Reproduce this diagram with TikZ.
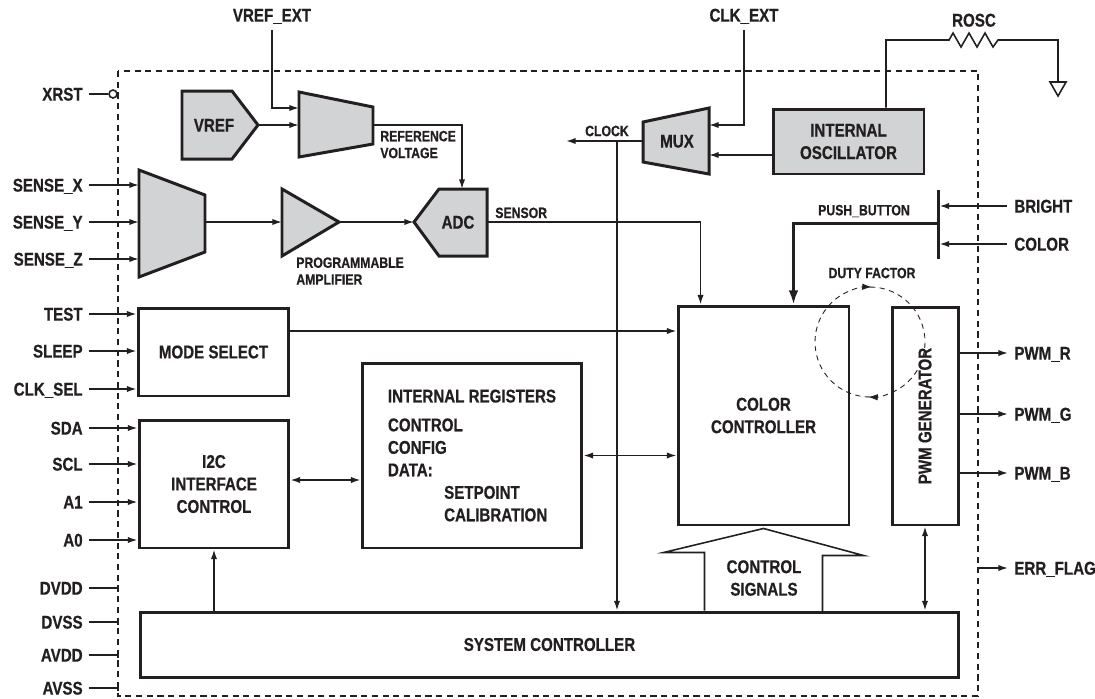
\documentclass[tikz,border=0pt]{standalone}
\usepackage{fontspec}
\setmainfont{Liberation Sans}[FakeStretch=0.82, BoldFeatures={FakeBold=0.6}]
\usepackage{tikz}
\usetikzlibrary{arrows.meta,positioning,calc}
\definecolor{chipgray}{HTML}{D1D3D4}
\definecolor{inkdark}{HTML}{231F20}
\tikzset{
  blockbox/.style={rectangle, draw=inkdark, line width=1.7pt, inner sep=0pt, align=center, text=inkdark, font=\bfseries\fontsize{10.5}{12.8}\selectfont},
  grayshape/.style={draw=inkdark, fill=chipgray, line width=1.7pt, line join=miter},
  pinlabel/.style={inner sep=0pt, text=inkdark, font=\bfseries\fontsize{10.5}{12.8}\selectfont, text height=7.5pt, text depth=0pt},
  blocktext/.style={inner sep=0pt, align=center, text=inkdark, font=\bfseries\fontsize{10.5}{12.8}\selectfont},
  smalllabel/.style={inner sep=0pt, align=left, text=inkdark, font=\bfseries\fontsize{8.5}{9.6}\selectfont},
  wire/.style={draw=inkdark, line width=0.9pt},
  thickwire/.style={draw=inkdark, line width=1.7pt}
}
\begin{document}
\begin{tikzpicture}[x=0.02cm, y=-0.02cm, >={Latex[length=5.5pt,width=3.6pt]}]
\useasboundingbox (0,0) rectangle (1095,698);

\coordinate (chip_nw) at (118,71);
\coordinate (chip_se) at (978,696);
\draw[inkdark, line width=0.9pt, dash pattern=on 3.5pt off 2.6pt] (chip_nw) rectangle (chip_se);

\node[blockbox, minimum width=3.02cm, minimum height=1.76cm] (mode_select) at (213.5,352) {MODE SELECT};
\node[blockbox, minimum width=3.0cm, minimum height=2.56cm] (i2c_ctrl) at (214,484) {I2C\\INTERFACE\\CONTROL};
\node[blockbox, minimum width=4.4cm, minimum height=3.7cm, align=left] (int_regs) at (472,455.5) {INTERNAL REGISTERS\\[3.6pt]CONTROL\\CONFIG\\DATA:\\\hspace*{32pt}SETPOINT\\\hspace*{32pt}CALIBRATION};
\node[blockbox, minimum width=3.42cm, minimum height=4.38cm] (color_ctrl) at (763.5,415.5) {COLOR\\CONTROLLER};
\node[blockbox, minimum width=1.32cm, minimum height=4.36cm] (pwm_gen) at (925,416) {};
\node[blocktext, rotate=90] (pwm_text) at (pwm_gen.center) {PWM GENERATOR};
\node[blockbox, minimum width=16.38cm, minimum height=1.3cm] (sys_ctrl) at (549.5,644.5) {SYSTEM CONTROLLER};
\node[blockbox, fill=chipgray, minimum width=3.02cm, minimum height=1.3cm] (int_osc) at (848.5,141.5) {INTERNAL\\OSCILLATOR};

\draw[grayshape] (182,91) -- (232,91) -- (258,125) coordinate (vref_out) -- (232,159) -- (182,159) -- cycle;
\node[pinlabel] (vref) at (214,125) {VREF};
\draw[grayshape] (299,92) -- (373,107) -- (373,144) -- (299,157) -- cycle;
\coordinate (ref_mux_in) at (299,108);
\coordinate (ref_mux_w) at (299,125);
\coordinate (ref_mux_out) at (373,125);
\draw[grayshape] (139,170) -- (205,195) -- (205,252) -- (139,277) -- cycle;
\coordinate (in_mux_w) at (139,222);
\coordinate (in_mux_out) at (205,222);
\draw[grayshape] (282,189) coordinate (amp_nw) -- (339,222) coordinate (amp_out) -- (282,256) coordinate (amp_sw) -- cycle;
\coordinate (amp_in) at (282,222);
\draw[grayshape] (414,222) coordinate (adc_in) -- (439,189) -- (487,189) -- (487,256) -- (439,256) -- cycle;
\node[pinlabel] (adc) at (458,222) {ADC};
\coordinate (adc_top) at (462,189);
\coordinate (adc_out) at (487,222);
\draw[grayshape] (643,122) -- (709,108) -- (709,174) -- (643,162) -- cycle;
\node[pinlabel] (mux) at (677,141) {MUX};
\coordinate (mux_out) at (643,141);
\coordinate (mux_in) at (709,125);
\coordinate (mux_e) at (709,141);

\node[pinlabel] (vref_ext) at (272,15) {VREF\_EXT};
\node[pinlabel] (clk_ext) at (744,15) {CLK\_EXT};
\node[pinlabel] (rosc) at (974,20) {ROSC};
\draw[wire,->] ([yshift=-0.16cm]vref_ext.south) |- (ref_mux_in);
\draw[wire,->] (vref_out) -- (vref_out -| ref_mux_w);
\draw[wire,->] (ref_mux_out) -| (adc_top);
\node[smalllabel, below right = 0.11cm and 0.14cm of ref_mux_out] (ref_lbl) {REFERENCE\\VOLTAGE};
\draw[wire,->] ([yshift=-0.16cm]clk_ext.south) |- (mux_in);
\draw[wire,->] ([yshift=-0.27cm]int_osc.west) -- ([yshift=-0.27cm]int_osc.west -| mux_e);

\coordinate (rosc_a) at (949,40);
\coordinate (rosc_b) at (998,40);
\coordinate (gnd_top) at (1058,82);
\draw[wire] ([xshift=0.75cm]int_osc.north) |- (rosc_a) -- ++(4,-7) -- ++(8,14) -- ++(8,-14) -- ++(8,14) -- ++(8,-14) -- ++(8,14) -- (rosc_b) -| (gnd_top);
\draw[wire] (gnd_top) ++(-8,0) -- ++(16,0) -- ++(-8,14) -- cycle;

\coordinate (clock_end) at (566,141);
\coordinate (clock_tap) at (617,141);
\draw[wire,->] (mux_out) -- (clock_end);
\node[smalllabel] (clock_lbl) at (607,131) {CLOCK};
\draw[wire,->] (clock_tap) -- (clock_tap |- sys_ctrl.north);

\draw[wire,->] (in_mux_out) -- (amp_in);
\draw[wire,->] (amp_out) -- (adc_in);
\node[smalllabel, below right = 0.02cm and 0.28cm of amp_sw] (amp_lbl) {PROGRAMMABLE\\AMPLIFIER};
\draw[wire,->] (adc_out) -| ([xshift=0.48cm]color_ctrl.north west);
\node[smalllabel, above right = 0.07cm and 0.16cm of adc_out] (sensor_lbl) {SENSOR};

\node[pinlabel, anchor=east] (p_xrst) at (83,94) {XRST};
\node[circle, draw=inkdark, line width=0.9pt, minimum size=0.16cm, inner sep=0pt] (xrst_dot) at (113,94) {};
\draw[wire] ([xshift=0.12cm]p_xrst.east) -- (xrst_dot.west);

\node[pinlabel, anchor=east] (p_sense_x) at (83,185) {SENSE\_X};
\node[pinlabel, anchor=east] (p_sense_y) at (83,222) {SENSE\_Y};
\node[pinlabel, anchor=east] (p_sense_z) at (83,259) {SENSE\_Z};
\draw[wire,->] ([xshift=0.12cm]p_sense_x.east) -- (p_sense_x.east -| in_mux_w);
\draw[wire,->] ([xshift=0.12cm]p_sense_y.east) -- (p_sense_y.east -| in_mux_w);
\draw[wire,->] ([xshift=0.12cm]p_sense_z.east) -- (p_sense_z.east -| in_mux_w);

\node[pinlabel, anchor=east] (p_test) at (83,314) {TEST};
\node[pinlabel, anchor=east] (p_sleep) at (83,351) {SLEEP};
\node[pinlabel, anchor=east] (p_clk_sel) at (83,389) {CLK\_SEL};
\draw[wire,->] ([xshift=0.12cm]p_test.east) -- (p_test.east -| mode_select.west);
\draw[wire,->] ([xshift=0.12cm]p_sleep.east) -- (p_sleep.east -| mode_select.west);
\draw[wire,->] ([xshift=0.12cm]p_clk_sel.east) -- (p_clk_sel.east -| mode_select.west);

\node[pinlabel, anchor=east] (p_sda) at (83,428) {SDA};
\node[pinlabel, anchor=east] (p_scl) at (83,464) {SCL};
\node[pinlabel, anchor=east] (p_a1) at (83,502) {A1};
\node[pinlabel, anchor=east] (p_a0) at (83,540) {A0};
\draw[wire,->] ([xshift=0.12cm]p_sda.east) -- (p_sda.east -| i2c_ctrl.west);
\draw[wire,->] ([xshift=0.12cm]p_scl.east) -- (p_scl.east -| i2c_ctrl.west);
\draw[wire,->] ([xshift=0.12cm]p_a1.east) -- (p_a1.east -| i2c_ctrl.west);
\draw[wire,->] ([xshift=0.12cm]p_a0.east) -- (p_a0.east -| i2c_ctrl.west);

\node[pinlabel, anchor=east] (p_dvdd) at (83,588) {DVDD};
\node[pinlabel, anchor=east] (p_dvss) at (83,622) {DVSS};
\node[pinlabel, anchor=east] (p_avdd) at (83,655) {AVDD};
\node[pinlabel, anchor=east] (p_avss) at (83,688) {AVSS};
\draw[wire] ([xshift=0.12cm]p_dvdd.east) -- (p_dvdd.east -| chip_nw) -- ++(0,3);
\draw[wire] ([xshift=0.12cm]p_dvss.east) -- (p_dvss.east -| chip_nw) -- ++(0,3);
\draw[wire] ([xshift=0.12cm]p_avdd.east) -- (p_avdd.east -| chip_nw) -- ++(0,3);
\draw[wire] ([xshift=0.12cm]p_avss.east) -- (p_avss.east -| chip_nw) -- ++(0,3);

\draw[wire,->] ([yshift=0.42cm]mode_select.east) -- ([yshift=0.42cm]mode_select.east -| color_ctrl.west);
\draw[wire,<->] ([yshift=0.08cm]i2c_ctrl.east) -- ([yshift=0.08cm]i2c_ctrl.east -| int_regs.west);
\draw[wire,<->] (int_regs.east) -- (int_regs.east -| color_ctrl.west);
\draw[wire,->] (i2c_ctrl.south |- sys_ctrl.north) -- (i2c_ctrl.south);
\draw[wire,<->] (pwm_gen.south) -- (pwm_gen.south |- sys_ctrl.north);

\draw[wire] ($(color_ctrl.south |- sys_ctrl.north)+(-59,0)$) -- ++(0,-58) -- ++(-41,0) -- ($(color_ctrl.south)+(0,2)$) -- ++(100,27) -- ++(-41,0) -- ++(0,58);
\node[blocktext] (ctrl_signals) at (764,578) {CONTROL\\SIGNALS};

\node[pinlabel, anchor=west] (p_bright) at (1014,206) {BRIGHT};
\node[pinlabel, anchor=west] (p_color) at (1014,244) {COLOR};
\coordinate (pb_bar_top) at (938,190);
\coordinate (pb_bar_bot) at (938,259);
\coordinate (pb_tap) at (938,223);
\draw[thickwire] (pb_bar_top) -- (pb_bar_bot);
\draw[wire,->] ([xshift=-0.14cm]p_bright.west) -- ([xshift=0.03cm]p_bright.west -| pb_bar_top);
\draw[wire,->] ([xshift=-0.14cm]p_color.west) -- ([xshift=0.03cm]p_color.west -| pb_bar_top);
\draw[thickwire,->,>={Latex[length=8pt,width=5.5pt]}] (pb_tap) -| ([xshift=2.34cm]color_ctrl.north west);
\node[smalllabel] (push_lbl) at (864,211) {PUSH\_BUTTON};

\node[smalllabel] (duty_lbl) at (872,273) {DUTY FACTOR};
\draw[inkdark, line width=0.5pt, dash pattern=on 3pt off 2.5pt, ->] (870,342) ++(90:55) arc[start angle=90, end angle=272, radius=55];
\draw[inkdark, line width=0.5pt, dash pattern=on 3pt off 2.5pt, ->] (870,342) ++(270:55) arc[start angle=270, end angle=452, radius=55];

\node[pinlabel, anchor=west] (p_pwm_r) at (1014,353) {PWM\_R};
\node[pinlabel, anchor=west] (p_pwm_g) at (1014,414) {PWM\_G};
\node[pinlabel, anchor=west] (p_pwm_b) at (1014,473) {PWM\_B};
\node[pinlabel, anchor=west] (p_err_flag) at (1014,568) {ERR\_FLAG};
\draw[wire,->] (p_pwm_r.west -| pwm_gen.east) -- ([xshift=-0.12cm]p_pwm_r.west);
\draw[wire,->] (p_pwm_g.west -| pwm_gen.east) -- ([xshift=-0.12cm]p_pwm_g.west);
\draw[wire,->] (p_pwm_b.west -| pwm_gen.east) -- ([xshift=-0.12cm]p_pwm_b.west);
\draw[wire,->] (p_err_flag.west -| chip_se) -- ([xshift=-0.12cm]p_err_flag.west);
\end{tikzpicture}
\end{document}
